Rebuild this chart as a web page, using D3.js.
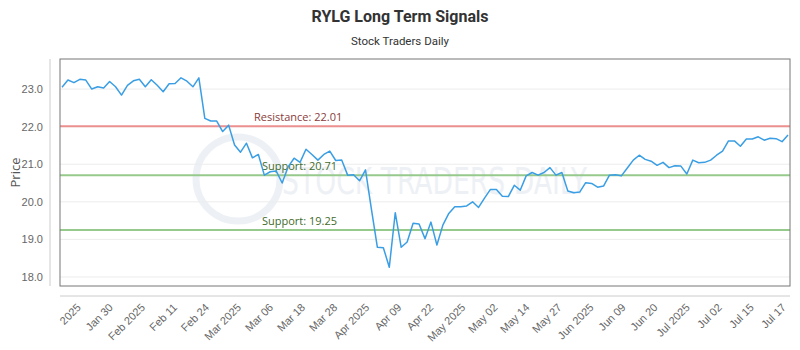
<!DOCTYPE html>
<html>
<head>
<meta charset="utf-8">
<script src="https://cdn.jsdelivr.net/npm/d3@7"></script>
<style>
  body { margin: 0; background: #fff; }
  svg { display: block; font-family: "Open Sans", sans-serif; }
</style>
</head>
<body>
<svg id="chart" width="800" height="350"></svg>
<script>
// closing prices, one per trading day
const prices = [
  23.05, 23.24, 23.17, 23.26, 23.24, 23.0, 23.06, 23.03, 23.2, 23.06,
  22.84, 23.1, 23.22, 23.26, 23.06, 23.25, 23.1, 22.93, 23.14, 23.15,
  23.3, 23.21, 23.06, 23.3, 22.22, 22.15, 22.15, 21.87, 22.04, 21.51,
  21.32, 21.56, 21.17, 21.26, 20.71, 20.8, 20.82, 20.5, 20.93, 21.16,
  21.05, 21.4, 21.26, 21.11, 21.26, 21.35, 21.1, 21.11, 20.71, 20.72,
  20.56, 20.85, 19.8, 18.79, 18.78, 18.26, 19.71, 18.79, 18.93, 19.43,
  19.41, 19.02, 19.46, 18.85, 19.38, 19.69, 19.87, 19.87, 19.89, 20.0,
  19.85, 20.1, 20.33, 20.33, 20.15, 20.14, 20.44, 20.31, 20.69, 20.78,
  20.71, 20.78, 20.91, 20.71, 20.78, 20.29, 20.24, 20.26, 20.51, 20.49,
  20.39, 20.42, 20.71, 20.72, 20.69, 20.9, 21.11, 21.24, 21.13, 21.08,
  20.97, 21.05, 20.91, 20.96, 20.95, 20.74, 21.11, 21.04, 21.05, 21.11,
  21.24, 21.35, 21.62, 21.62, 21.48, 21.67, 21.67, 21.73, 21.64, 21.69,
  21.68, 21.6, 21.78
];

const xLabels = [
  '2025', 'Jan 30', 'Feb 2025', 'Feb 11', 'Feb 24', 'Mar 2025', 'Mar 06',
  'Mar 18', 'Mar 28', 'Apr 2025', 'Apr 09', 'Apr 22', 'May 2025', 'May 02',
  'May 14', 'May 27', 'Jun 2025', 'Jun 09', 'Jun 20', 'Jul 2025', 'Jul 02',
  'Jul 15', 'Jul 17'
];

const yTicks = [18, 19, 20, 21, 22, 23];

const levels = [
  { label: 'Resistance', value: 22.01, kind: 'res' },
  { label: 'Support', value: 20.71, kind: 'sup' },
  { label: 'Support', value: 19.25, kind: 'sup' }
];

const svg = d3.select('#chart');
const plot = { left: 60, right: 790, top: 59, bottom: 286 };

const x = d3.scaleLinear()
  .domain([0, prices.length - 1])
  .range([plot.left + 2, plot.right - 2]);
const y = d3.scaleLinear()
  .domain([17.76, 23.8])
  .range([plot.bottom, plot.top]);
const xTick = d3.scalePoint()
  .domain(xLabels)
  .range([72, 777]);

// title
svg.append('text')
  .attr('x', 400).attr('y', 22)
  .attr('text-anchor', 'middle')
  .style('font-family', 'Roboto, sans-serif')
  .style('font-size', '16px').style('font-weight', 'bold')
  .attr('fill', '#333')
  .text('RYLG Long Term Signals');
svg.append('text')
  .attr('x', 400).attr('y', 45)
  .attr('text-anchor', 'middle')
  .style('font-family', 'Roboto, sans-serif')
  .style('font-size', '11.5px')
  .attr('fill', '#333')
  .text('Stock Traders Daily');

// watermark
const wm = svg.append('g').attr('opacity', 0.55);
wm.append('circle')
  .attr('cx', 238).attr('cy', 179).attr('r', 42)
  .attr('fill', 'none').attr('stroke', '#dfe6ee').attr('stroke-width', 7);
wm.append('text')
  .attr('x', 282).attr('y', 194)
  .attr('textLength', 305).attr('lengthAdjust', 'spacingAndGlyphs')
  .style('font-family', '"DejaVu Sans Condensed", sans-serif')
  .style('font-size', '38px')
  .attr('fill', '#dfe6ee')
  .text('STOCK TRADERS DAILY');

// grid
svg.append('g')
  .selectAll('line')
  .data(yTicks)
  .join('line')
  .attr('x1', plot.left).attr('x2', plot.right)
  .attr('y1', d => y(d)).attr('y2', d => y(d))
  .attr('stroke', '#ececec');

// y axis
const yAxis = svg.append('g')
  .attr('transform', 'translate(50,0)')
  .call(d3.axisLeft(y).tickValues(yTicks).tickSize(0).tickPadding(7));
yAxis.select('.domain').attr('stroke', '#ccc').attr('d', `M0,${plot.top}V${plot.bottom}`);
yAxis.selectAll('text')
  .style('font-size', '11px').attr('fill', '#666');

svg.append('text')
  .attr('transform', `translate(20,${(plot.top + plot.bottom) / 2}) rotate(-90)`)
  .attr('text-anchor', 'middle')
  .style('font-size', '13px')
  .attr('fill', '#555')
  .text('Price');

// x axis
const xAxis = svg.append('g')
  .attr('transform', 'translate(0,296)')
  .call(d3.axisBottom(xTick).tickSize(0));
xAxis.select('.domain').attr('stroke', '#ccc').attr('d', `M${plot.left},0H${plot.right}`);
xAxis.selectAll('text')
  .style('font-size', '11px').attr('fill', '#666')
  .attr('text-anchor', 'end')
  .attr('dy', 0)
  .attr('transform', 'translate(7,10) rotate(-45)');

// support / resistance
const lv = svg.append('g');
lv.selectAll('line')
  .data(levels)
  .join('line')
  .attr('x1', plot.left).attr('x2', plot.right)
  .attr('y1', d => y(d.value)).attr('y2', d => y(d.value))
  .attr('stroke', d => d.kind === 'res' ? '#ec8f8f' : '#96c98c')
  .attr('stroke-width', 2);
lv.selectAll('text')
  .data(levels)
  .join('text')
  .attr('x', d => d.kind === 'res' ? 254 : 262)
  .attr('y', d => y(d.value) - 5)
  .style('font-size', '11px')
  .attr('fill', d => d.kind === 'res' ? '#8a3b3b' : '#3f6b2c')
  .text(d => `${d.label}: ${d.value.toFixed(2)}`);

// price line
const line = d3.line()
  .x((d, i) => x(i))
  .y(d => y(d));
svg.append('path')
  .datum(prices)
  .attr('d', line)
  .attr('fill', 'none')
  .attr('stroke', '#3a9ee4')
  .attr('stroke-width', 1.5)
  .attr('stroke-linejoin', 'round');

// plot frame
svg.append('rect')
  .attr('x', plot.left).attr('y', plot.top)
  .attr('width', plot.right - plot.left)
  .attr('height', plot.bottom - plot.top)
  .attr('fill', 'none')
  .attr('stroke', '#777');
</script>
</body>
</html>
